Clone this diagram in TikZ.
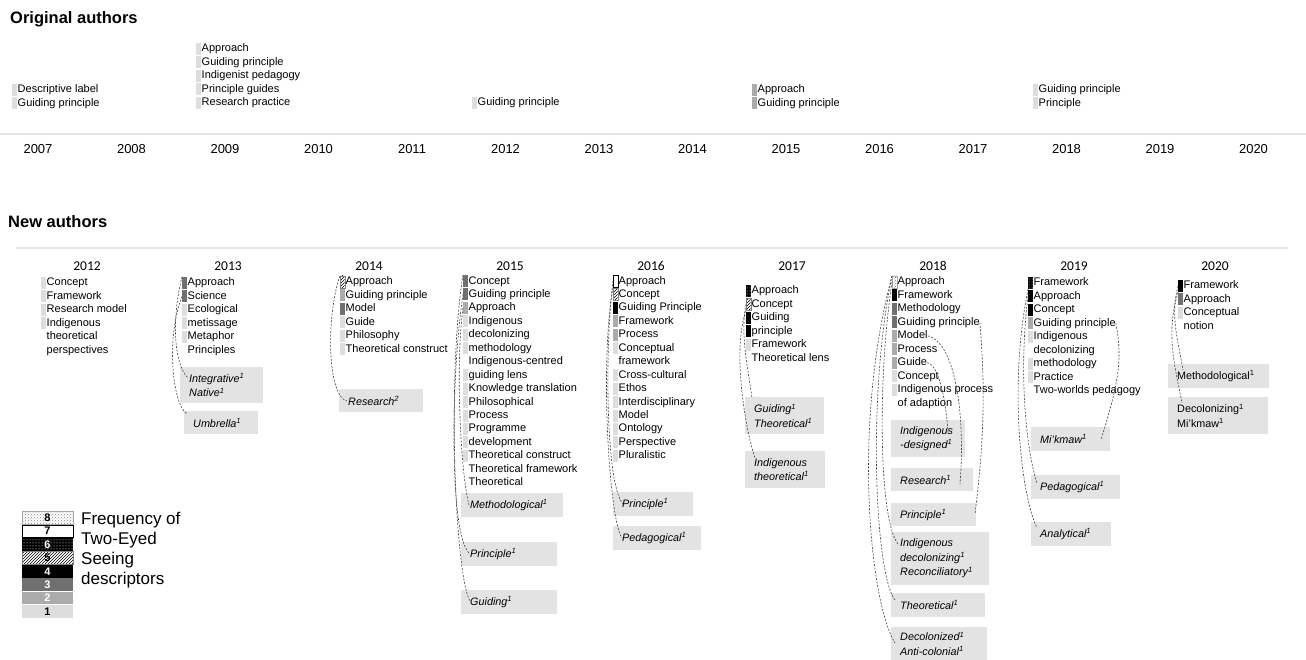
\documentclass[tikz,border=0pt]{standalone}
\usepackage{fontspec}
\setmainfont{Liberation Sans}
\newfontfamily\yearfont{Carlito}
\usetikzlibrary{patterns}

\definecolor{boxgray}{HTML}{E3E3E3}
\definecolor{lvone}{HTML}{DDDDDD}
\definecolor{lvtwo}{HTML}{ABABAB}
\definecolor{lvthree}{HTML}{707070}
\definecolor{rulegray}{HTML}{E4E4E4}

\tikzset{
  desc/.style={anchor=west, inner sep=0pt, text height=8pt, text depth=2pt,
    font=\fontsize{11}{13}\selectfont},
  mk/.style={anchor=west, inner sep=0pt, minimum width=4.5pt, minimum height=12pt},
  lv0/.style={},
  lv1/.style={fill=lvone},
  lv2/.style={fill=lvtwo},
  lv3/.style={fill=lvthree},
  lv4/.style={fill=black},
  lv5/.style={preaction={fill=white}, pattern=north east lines, pattern color=black, draw=gray, line width=0.3pt},
  lv6/.style={preaction={fill=black}, pattern=dots, pattern color=white},
  lv7/.style={fill=white, draw=black, line width=0.6pt},
  lv8/.style={preaction={fill=white}, pattern=crosshatch dots, pattern color=gray, draw=gray!70, line width=0.3pt},
  gbox/.style={fill=boxgray, anchor=north west, inner xsep=9pt, inner ysep=0pt, align=left,
    font=\fontsize{10.8}{14.5}\selectfont\itshape},
  link/.style={dash pattern=on 2pt off 1.5pt, line width=0.6pt, black!75},
  rule/.style={rulegray, line width=1.2pt},
  headline/.style={anchor=west, inner sep=0pt, font=\fontsize{16.5}{19}\selectfont\bfseries},
  yrtop/.style={inner sep=0pt, font=\fontsize{13}{15}\selectfont},
  yrnew/.style={inner sep=0pt, font=\yearfont\fontsize{13.5}{15}\selectfont},
  lgcell/.style={inner sep=0pt, minimum width=51pt, minimum height=12.6pt,
    font=\fontsize{11}{11}\selectfont\bfseries},
}

% one column of descriptors: name, x, first y, list of level/text
\newcommand{\desccol}[4]{%
  \foreach \lv/\txt [count=\i] in {#4}{%
    \pgfmathsetmacro\yy{#3+(\i-1)*13.45}
    \node[mk,lv\lv] (#1-m\i) at (#2,\yy) {};
    \node[desc] (#1-\i) at (#2+5.5,\yy) {\txt};
  }%
}
% grey label box: name, x1, y1, x2, y2, text
\newcommand{\gbox}[6]{%
  \pgfmathsetmacro\bw{#4-#2-18}%
  \pgfmathsetmacro\bh{#5-#3}%
  \node[gbox, text width=\bw pt, minimum height=\bh pt] (#1) at (#2,#3) {#6};%
}

\begin{document}
\begin{tikzpicture}[x=1pt,y=-1pt]
\useasboundingbox (0,0) rectangle (1306,660);

% original authors
\node[headline] (orig) at (10,19) {Original authors};
\desccol{t07}{12}{90}{1/Descriptive label,1/Guiding principle}
\desccol{t09}{196}{49}{1/Approach,1/Guiding principle,1/Indigenist pedagogy,1/Principle guides,1/Research practice}
\desccol{t12}{472}{103}{1/Guiding principle}
\desccol{t15}{752}{90}{2/Approach,2/Guiding principle}
\desccol{t18}{1033}{90}{1/Guiding principle,1/Principle}
\draw[rule] (0,134) -- (1306,134);
\foreach \yr [count=\i from 0] in {2007,...,2020}
  \node[yrtop] (y\yr) at (38+93.5*\i,149) {\yr};

% new authors
\node[headline] (new) at (8,222) {New authors};
\draw[rule] (16,248) -- (1288,248);
\foreach \yr [count=\i from 0] in {2012,...,2020}
  \node[yrnew] (n\yr) at (87+141*\i,266) {\yr};

\desccol{c12}{41}{283}{1/Concept,1/Framework,1/Research model,1/Indigenous,0/theoretical,0/perspectives}
\desccol{c13}{182}{283}{3/Approach,3/Science,1/Ecological,1/metissage,1/Metaphor,0/Principles}
\desccol{c14}{340}{282}{5/Approach,2/Guiding principle,3/Model,1/Guide,1/Philosophy,1/Theoretical construct}
\desccol{c15}{463}{281}{3/Concept,3/Guiding principle,2/Approach,1/Indigenous,1/decolonizing,1/methodology,0/Indigenous-centred,1/guiding lens,1/Knowledge translation,1/Philosophical,1/Process,1/Programme,1/development,1/Theoretical construct,0/Theoretical framework,0/Theoretical}
\desccol{c16}{613}{281}{7/Approach,5/Concept,4/Guiding Principle,2/Framework,2/Process,1/Conceptual,0/framework,1/Cross-cultural,1/Ethos,1/Interdisciplinary,1/Model,1/Ontology,1/Perspective,1/Pluralistic}
\desccol{c17}{746}{291}{6/Approach,5/Concept,4/Guiding,4/principle,1/Framework,0/Theoretical lens}
\desccol{c18}{892}{282}{8/Approach,4/Framework,3/Methodology,3/Guiding principle,2/Model,2/Process,2/Guide,1/Concept,1/Indigenous process,0/of adaption}
\desccol{c19}{1028}{283}{6/Framework,4/Approach,4/Concept,2/Guiding principle,1/Indigenous,0/decolonizing,1/methodology,1/Practice,0/Two-worlds pedagogy}
\desccol{c20}{1178}{286}{4/Framework,3/Approach,1/Conceptual,0/notion}

% grey boxes
\gbox{b13a}{180}{367}{263}{403}{Integrative\textsuperscript{1}\\Native\textsuperscript{1}}
\gbox{b13b}{184}{411}{258}{434}{Umbrella\textsuperscript{1}}
\gbox{b14a}{339}{389}{423}{412}{Research\textsuperscript{2}}
\gbox{b15a}{461}{493}{563}{517}{Methodological\textsuperscript{1}}
\gbox{b15b}{461}{542}{557}{566}{Principle\textsuperscript{1}}
\gbox{b15c}{461}{590}{557}{614}{Guiding\textsuperscript{1}}
\gbox{b16a}{613}{492}{693}{516}{Principle\textsuperscript{1}}
\gbox{b16b}{613}{526}{701}{550}{Pedagogical\textsuperscript{1}}
\gbox{b17a}{745}{397}{824}{434}{Guiding\textsuperscript{1}\\Theoretical\textsuperscript{1}}
\gbox{b17b}{745}{451}{825}{488}{Indigenous\\theoretical\textsuperscript{1}}
\gbox{b18a}{891}{420}{965}{457}{Indigenous\\-designed\textsuperscript{1}}
\gbox{b18b}{891}{468}{973}{491}{Research\textsuperscript{1}}
\gbox{b18c}{891}{503}{976}{526}{Principle\textsuperscript{1}}
\gbox{b18d}{891}{532}{989}{585}{Indigenous\\decolonizing\textsuperscript{1}\\Reconciliatory\textsuperscript{1}}
\gbox{b18e}{891}{593}{985}{617}{Theoretical\textsuperscript{1}}
\gbox{b18f}{891}{627}{987}{660}{Decolonized\textsuperscript{1}\\Anti-colonial\textsuperscript{1}}
\gbox{b19a}{1031}{427}{1110}{451}{Mi'kmaw\textsuperscript{1}}
\gbox{b19b}{1031}{475}{1120}{499}{Pedagogical\textsuperscript{1}}
\gbox{b19c}{1031}{522}{1111}{546}{Analytical\textsuperscript{1}}
\gbox{b20a}{1168}{364}{1269}{388}{\upshape Methodological\textsuperscript{1}}
\gbox{b20b}{1168}{397}{1268}{434}{\upshape Decolonizing\textsuperscript{1}\\Mi'kmaw\textsuperscript{1}}

% dashed links
\draw[link] (c13-m1.north west) .. controls +(-10,40) and +(-15,-15) .. ([shift={(8,11)}]b13a.north west);
\draw[link] (c13-m2.west) .. controls +(-16,40) and +(-15,-10) .. ([shift={(3,3)}]b13b.north west);
\draw[link] (c14-m1.north west) .. controls +(-14,40) and +(-20,-5) .. ([shift={(8,12)}]b14a.north west);
\draw[link] (c15-m3.west) .. controls +(-8,60) and +(-8,-30) .. ([shift={(8,12)}]b15a.north west);
\draw[link] (c15-m2.west) .. controls +(-12,80) and +(-20,-20) .. ([shift={(8,11)}]b15b.north west);
\draw[link] (c15-m1.north west) .. controls +(-16,100) and +(-15,-25) .. ([shift={(9,11)}]b15c.north west);
\draw[link] (c16-m1.west) .. controls +(-8,60) and +(-18,-20) .. ([shift={(10,12)}]b16a.north west);
\draw[link] (c16-m1.south west) .. controls +(-14,80) and +(-12,-15) .. ([shift={(9,12)}]b16b.north west);
\draw[link] (c17-m2.west) .. controls +(-6,30) and +(-4,-30) .. ([shift={(7,1)}]b17a.north west);
\draw[link] (c17-m2.south west) .. controls +(-14,40) and +(-10,-30) .. ([shift={(10,7)}]b17b.north west);
\draw[link] (c18-m1.west) .. controls +(-15,100) and +(-20,-20) .. ([shift={(8,13)}]b18d.north west);
\draw[link] (c18-m1.north west) .. controls +(-25,120) and +(-20,-25) .. ([shift={(4,7)}]b18e.north west);
\draw[link] (c18-m1.north west) .. controls +(-40,150) and +(-25,-40) .. ([shift={(4,16)}]b18f.north west);
\draw[link] (c18-7.east) .. controls +(12,2) and +(-2,-30) .. ([shift={(57,12)}]b18a.north west);
\draw[link] (c18-5.east) .. controls +(30,8) and +(5,-60) .. ([shift={(69,16)}]b18b.north west);
\draw[link] (c18-4.east) .. controls +(5,60) and +(10,-80) .. ([shift={(84,11)}]b18c.north west);
\draw[link] (c19-m2.west) .. controls +(-10,80) and +(-10,-30) .. ([shift={(6,8)}]b19b.north west);
\draw[link] (c19-m1.south west) .. controls +(-20,100) and +(-15,-30) .. ([shift={(6,6)}]b19c.north west);
\draw[link] (c19-4.east) .. controls +(8,40) and +(15,-50) .. ([shift={(70,13)}]b19a.north west);
\draw[link] (c20-m1.west) .. controls +(-8,30) and +(-5,-30) .. ([shift={(15,6)}]b20a.north west);
\draw[link] (c20-m1.south west) .. controls +(-12,40) and +(-8,-40) .. ([shift={(14,6)}]b20b.north west);

% legend
\foreach \lv/\tc [count=\i from 0] in {8/black,7/black,6/white,5/black,4/white,3/white,2/white,1/black}
  \node[lgcell,lv\lv,text=\tc] (lg\lv) at (47.5,517.7+13.4*\i) {\lv};
\node[anchor=north west, inner sep=0pt, align=left, font=\fontsize{17}{20}\selectfont]
  (lgtext) at (81,512) {Frequency of\\Two-Eyed\\Seeing\\descriptors};
\end{tikzpicture}
\end{document}
